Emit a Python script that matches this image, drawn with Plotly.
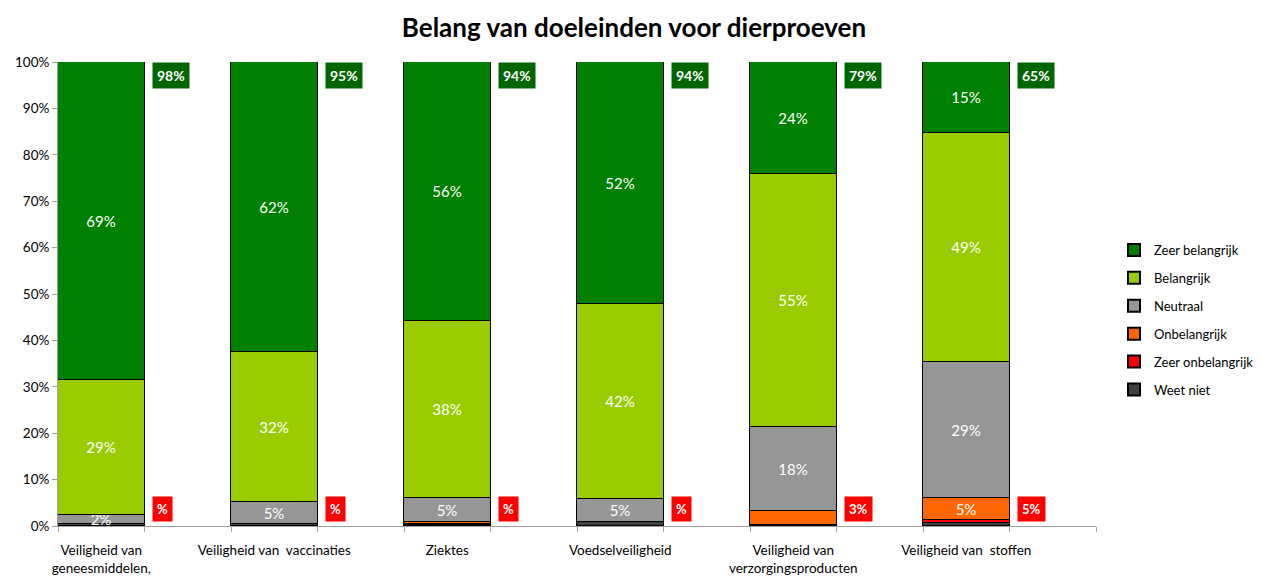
import plotly.graph_objects as go

categories = [
    "Veiligheid van<br>geneesmiddelen,",
    "Veiligheid van  vaccinaties",
    "Ziektes",
    "Voedselveiligheid",
    "Veiligheid van<br>verzorgingsproducten",
    "Veiligheid van  stoffen",
]

weet_niet = [0.5, 0.5, 0.3, 0.8, 0.3, 0.7]
zeer_onbelangrijk = [0.0, 0.0, 0.1, 0.0, 0.0, 0.5]
onbelangrijk = [0.0, 0.0, 0.4, 0.0, 2.9, 4.8]
neutraal = [1.9, 4.7, 5.2, 5.0, 18.1, 29.3]
belangrijk = [29.0, 32.4, 38.2, 42.0, 54.6, 49.4]
zeer_belangrijk = [68.6, 62.4, 55.8, 52.2, 24.1, 15.3]

unimportant_labels = ["%", "%", "%", "%", "3%", "5%"]

y_ticks = list(range(0, 101, 10))
y_ticktext = [f"{v}%" for v in y_ticks]

# name, values, colour, minimum value that gets an inside label
series = [
    ("Weet niet", weet_niet, "#404040", 1000),
    ("Zeer onbelangrijk", zeer_onbelangrijk, "#FF0000", 1000),
    ("Onbelangrijk", onbelangrijk, "#FF6600", 4),
    ("Neutraal", neutraal, "#969696", 1.5),
    ("Belangrijk", belangrijk, "#99CC00", 1.5),
    ("Zeer belangrijk", zeer_belangrijk, "#008000", 1.5),
]

FONT = "Lato"
W, H = 1254, 569  # page body has an 8px margin inside the 1262x577 window
n = len(categories)
xpos = [2 * i + 0.5 for i in range(n)]

fig = go.Figure()
for k, (name, vals, color, minlab) in enumerate(series):
    texts = [f"{round(v)}%" if v >= minlab else "" for v in vals]
    fig.add_trace(go.Bar(
        name=name, x=xpos, y=vals, width=1.0, legendgroup=name,
        legendrank=len(series) - k,
        marker=dict(color=color, line=dict(color="#000000", width=1)),
        text=texts, textposition="inside", insidetextanchor="middle",
        textfont=dict(color="white", size=15, family=FONT),
        cliponaxis=False, hoverinfo="skip",
    ))

annotations = []
for i in range(n):
    total_imp = zeer_belangrijk[i] + belangrijk[i]
    annotations.append(dict(
        x=2 * i + 1, y=100, xref="x", yref="y", xanchor="left", yanchor="top",
        xshift=7, text=f"<b>{round(total_imp)}%</b>", showarrow=False,
        font=dict(color="white", size=14, family=FONT),
        bgcolor="#006600", borderpad=4,
    ))
    annotations.append(dict(
        x=2 * i + 1, y=3.7, xref="x", yref="y", xanchor="left", yanchor="middle",
        xshift=7, text=f"<b>{unimportant_labels[i]}</b>", showarrow=False,
        font=dict(color="white", size=13, family=FONT),
        bgcolor="#FF0000", borderpad=4,
    ))

fig.update_layout(
    barmode="stack", bargap=0,
    width=W, height=H,
    paper_bgcolor="white", plot_bgcolor="white",
    margin=dict(l=50, r=W - 1088, t=54, b=H - 518, autoexpand=False),
    title=dict(text="<b>Belang van doeleinden voor dierproeven</b>",
               x=626 / W, xref="container", xanchor="center",
               y=1 - 20 / H, yref="container", yanchor="middle",
               font=dict(size=26, color="#000000", family=FONT)),
    font=dict(family=FONT, color="#333333", size=13),
    showlegend=True,
    legend=dict(traceorder="grouped", xref="container", yref="container",
                x=1106 / W, xanchor="left", y=1 - 312 / H, yanchor="middle",
                font=dict(size=13, color="#000000", family=FONT),
                itemwidth=30, tracegroupgap=8, itemsizing="constant"),
    annotations=annotations,
    uniformtext=dict(minsize=15, mode="show"),
)

fig.update_xaxes(
    range=[0, 2 * n], tickvals=xpos, ticktext=categories, ticks="",
    showline=True, linecolor="#A0A0A0", linewidth=1,
    showgrid=False, zeroline=False, automargin=False,
    tickfont=dict(size=13.5, color="#000000", family=FONT),
    ticklabelstandoff=12,
    minor=dict(ticks="outside", tick0=0, dtick=1, ticklen=5, tickcolor="#A0A0A0", showgrid=False),
)
fig.update_yaxes(
    range=[0, 100], tickvals=y_ticks, ticktext=y_ticktext,
    ticks="outside", ticklen=5, tickcolor="#A0A0A0",
    showline=True, linecolor="#A0A0A0", linewidth=1,
    showgrid=False, zeroline=False, automargin=False,
    tickfont=dict(size=13.5, color="#000000", family=FONT),
)

fig.write_html("out.html")
